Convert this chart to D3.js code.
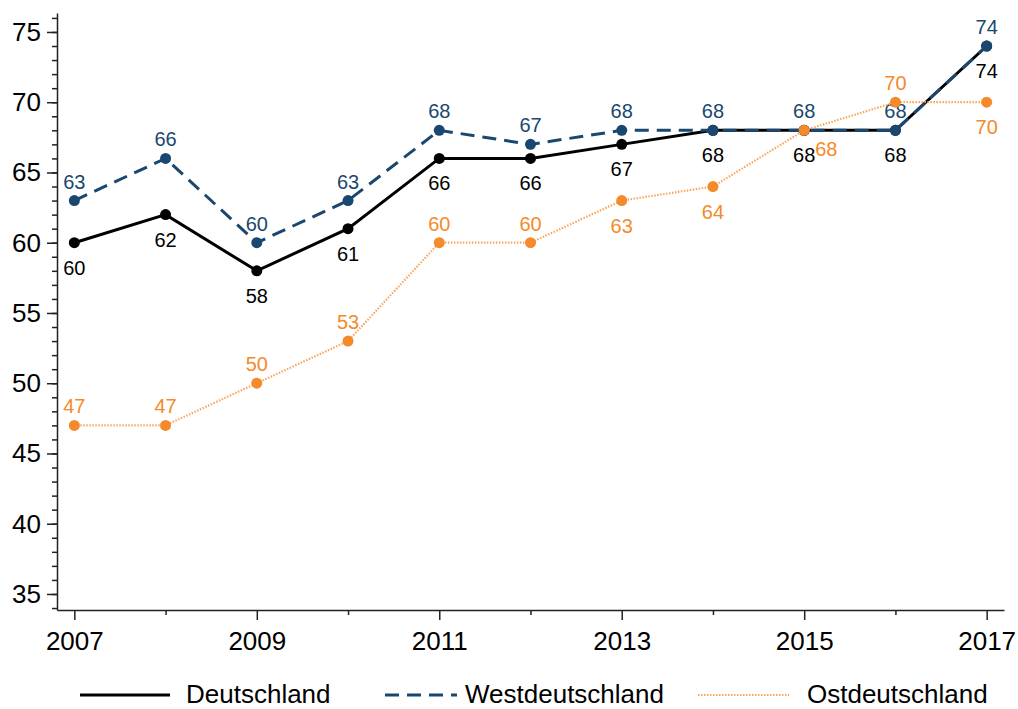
<!DOCTYPE html>
<html>
<head>
<meta charset="utf-8">
<script src="https://cdn.jsdelivr.net/npm/d3@7"></script>
<style>
  body { margin: 0; background: #fff; }
  svg { display: block; font-family: "Liberation Sans", Arial, sans-serif; }
</style>
</head>
<body>
<div id="chart"></div>
<script>
// data
var years = [2007, 2008, 2009, 2010, 2011, 2012, 2013, 2014, 2015, 2016, 2017];
var deutschland = [60, 62, 58, 61, 66, 66, 67, 68, 68, 68, 74];
var westdeutschland = [63, 66, 60, 63, 68, 67, 68, 68, 68, 68, 74];
var ostdeutschland = [47, 47, 50, 53, 60, 60, 63, 64, 68, 70, 70];
// label position per point: "n" above, "s" below, "se" right-below
var ostLabelPos = ["n", "n", "n", "n", "n", "n", "s", "s", "se", "n", "s"];
var yTicks = [35, 40, 45, 50, 55, 60, 65, 70, 75];
var xTicks = [2007, 2009, 2011, 2013, 2015, 2017];

var W = 1018, H = 709;
var x = d3.scaleLinear().domain([2006.81, 2017.19]).range([57, 1004]);
var y = d3.scaleLinear().domain([33.86, 76.35]).range([610, 13]);

var svg = d3.select("#chart").append("svg")
  .attr("width", W).attr("height", H);

// y axis, minor ticks first
svg.append("g")
  .attr("transform", "translate(57,0)")
  .call(d3.axisLeft(y).tickValues(d3.range(34, 77)).tickSize(5).tickFormat(""))
  .call(g => g.select(".domain").remove());
var yAxis = svg.append("g")
  .attr("transform", "translate(57,0)")
  .call(d3.axisLeft(y).tickValues(yTicks).tickSize(10).tickPadding(6).tickSizeOuter(0));
yAxis.selectAll("text").style("font-size", "26px").attr("fill", "#000");

// x axis
svg.append("g")
  .attr("transform", "translate(0,610)")
  .call(d3.axisBottom(x).tickValues(d3.range(2008, 2017, 2)).tickSize(5).tickFormat(""))
  .call(g => g.select(".domain").remove());
var xAxis = svg.append("g")
  .attr("transform", "translate(0,610)")
  .call(d3.axisBottom(x).tickValues(xTicks).tickSize(10).tickPadding(12).tickSizeOuter(0).tickFormat(d3.format("d")));
xAxis.selectAll("text").style("font-size", "26px").attr("fill", "#000");

svg.selectAll(".domain, .tick line").attr("stroke", "#222").attr("stroke-width", 1.5);

var series = [
  {name: "Deutschland", values: deutschland, color: "#000", textColor: "#000", width: 3, dash: null, label: "s"},
  {name: "Westdeutschland", values: westdeutschland, color: "#1a476f", textColor: "#1a476f", width: 3, dash: "14,8", label: "n"},
  {name: "Ostdeutschland", values: ostdeutschland, color: "#f9a65c", textColor: "#f58a2b", width: 2.2, dash: "1.5,1.5", label: ostLabelPos, marker: "#f58a2b"}
];

var line = d3.line()
  .x(d => x(d.year))
  .y(d => y(d.v));

series.forEach(function (s) {
  var pts = years.map((yr, i) => ({year: yr, v: s.values[i], pos: Array.isArray(s.label) ? s.label[i] : s.label}));
  var g = svg.append("g");
  g.append("path")
    .attr("d", line(pts))
    .attr("fill", "none")
    .attr("stroke", s.color)
    .attr("stroke-width", s.width)
    .attr("stroke-dasharray", s.dash);
  g.selectAll("circle").data(pts).enter().append("circle")
    .attr("cx", d => x(d.year))
    .attr("cy", d => y(d.v))
    .attr("r", 5.5)
    .attr("fill", s.marker || s.color);
  g.selectAll("text").data(pts).enter().append("text")
    .attr("x", d => x(d.year) + (d.pos === "se" ? 11 : 0))
    .attr("y", d => y(d.v) + (d.pos === "n" ? -12 : d.pos === "s" ? 32 : 26))
    .attr("text-anchor", d => d.pos === "se" ? "start" : "middle")
    .attr("fill", s.textColor)
    .style("font-size", "20px")
    .text(d => d.v);
});

// legend
var legendItems = [
  {s: series[0], x1: 80, x2: 170, tx: 186},
  {s: series[1], x1: 385, x2: 457, tx: 465},
  {s: series[2], x1: 698, x2: 789, tx: 807}
];
var legend = svg.append("g");
legendItems.forEach(function (d) {
  legend.append("line")
    .attr("x1", d.x1).attr("x2", d.x2)
    .attr("y1", 695).attr("y2", 695)
    .attr("stroke", d.s.color)
    .attr("stroke-width", d.s.width)
    .attr("stroke-dasharray", d.s.dash);
  legend.append("text")
    .attr("x", d.tx).attr("y", 703)
    .attr("fill", "#000")
    .style("font-size", "26px")
    .text(d.s.name);
});
</script>
</body>
</html>
